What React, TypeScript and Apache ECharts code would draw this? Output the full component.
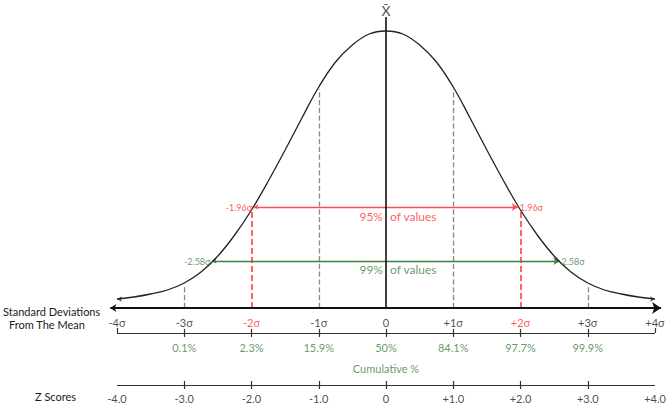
import React, { useEffect, useRef } from 'react';
import * as echarts from 'echarts';

// Bell curve (height above the main axis, px-like units)
const curveX = [-4, -3.75, -3.5, -3.25, -3, -2.75, -2.5, -2.25, -2, -1.75, -1.5, -1.25, -1, -0.75, -0.5, -0.25, 0, 0.25, 0.5, 0.75, 1, 1.25, 1.5, 1.75, 2, 2.25, 2.5, 2.75, 3, 3.25, 3.5, 3.75, 4];
const curveY = [9, 11, 14, 18, 25, 36, 52, 73, 98, 127, 158, 190, 221, 246, 263, 274, 277, 274, 263, 246, 221, 190, 158, 127, 98, 73, 52, 36, 25, 18, 14, 11, 9];

const sigmaTicks = [-4, -3, -2, -1, 0, 1, 2, 3, 4];
const sigmaLabels = ['-4σ', '-3σ', '-2σ', '-1σ', '0', '+1σ', '+2σ', '+3σ', '+4σ'];
const sigmaRed = [-2, 2];

const cumulativeTicks = [-3, -2, -1, 0, 1, 2, 3];
const cumulativeLabels = ['0.1%', '2.3%', '15.9%', '50%', '84.1%', '97.7%', '99.9%'];

const zTicks = [-4, -3, -2, -1, 0, 1, 2, 3, 4];
const zLabels = ['-4.0', '-3.0', '-2.0', '-1.0', '0', '+1.0', '+2.0', '+3.0', '+4.0'];

const grayGuideX = [-3, -1, 1, 3];
const grayGuideTop = [23, 219, 219, 23];
const redGuideX = [-2, 2];

const interval95 = [-1.96, 1.96];
const level95 = 101;
const interval99 = [-2.58, 2.58];
const level99 = 47;

const peakLineTop = 291;

const FONT = 'Lato, "Open Sans", sans-serif';
const DARK = '#1a1a1a';
const RED = '#ff3030';
const RED_LINE = '#ff5050';
const GREEN = '#3d7f3d';

// row positions (layout, in the same vertical units)
const ROW_MAIN = 0;
const ROW_SIGMA_LABEL = -14;
const ROW_CUM = -25;
const ROW_CUM_LABEL = -39;
const ROW_CUM_TITLE = -60;
const ROW_Z = -77;
const ROW_Z_LABEL = -90;

function textSeries(items: { x: number; y: number; text: string; color?: string; align?: string; size?: number }[], color: string, size: number) {
  return {
    type: 'scatter',
    symbolSize: 1,
    itemStyle: { color: 'rgba(0,0,0,0)' },
    silent: true,
    clip: false,
    z: 5,
    data: items.map((it) => ({
      value: [it.x, it.y],
      label: {
        show: true,
        position: 'inside',
        formatter: it.text,
        color: it.color || color,
        fontSize: it.size || size,
        fontFamily: FONT,
        align: it.align || 'center',
        verticalAlign: 'middle',
      },
    })),
  };
}

function segSeries(segs: number[][][], color: string, width: number, type: string = 'solid', symbol: any = 'none', symbolSize: any = 0) {
  return {
    type: 'lines',
    coordinateSystem: 'cartesian2d',
    silent: true,
    clip: false,
    symbol,
    symbolSize,
    lineStyle: { color, width, type, opacity: 1 },
    data: segs.map((s) => ({ coords: s })),
  };
}

export default function App() {
  const ref = useRef<HTMLDivElement>(null);
  useEffect(() => {
    if (!ref.current) return;
    const chart = echarts.init(ref.current, undefined, { renderer: 'svg' });
    const series: any[] = [];

    // main curve
    series.push({
      type: 'line',
      data: curveX.map((x, i) => [x, curveY[i]]),
      smooth: 0.4,
      symbol: 'none',
      lineStyle: { color: '#222', width: 1.3 },
      z: 4,
    });
    // curve end arrows
    series.push({
      type: 'scatter',
      symbol: 'arrow',
      symbolSize: [4, 5],
      itemStyle: { color: '#222' },
      silent: true,
      data: [
        { value: [curveX[0], curveY[0]], symbolRotate: 90 },
        { value: [curveX[curveX.length - 1], curveY[curveY.length - 1]], symbolRotate: -90 },
      ],
    });

    // guides
    series.push(segSeries(grayGuideX.map((x, i) => [[x, ROW_MAIN], [x, grayGuideTop[i]]]), '#888', 1.3, 'dashed'));
    series.push(segSeries(redGuideX.map((x) => [[x, ROW_MAIN], [x, level95 - 2]]), RED, 1.5, 'dashed'));

    // interval lines
    series.push(segSeries([[[interval95[0], level95], [interval95[1], level95]]], RED_LINE, 1.3, 'solid', ['arrow', 'arrow'], [4, 6]));
    series.push(segSeries([[[interval99[0], level99], [interval99[1], level99]]], GREEN, 1.3, 'solid', ['arrow', 'arrow'], [4, 6]));

    // center line
    series.push(segSeries([[[0, ROW_MAIN], [0, peakLineTop]]], '#111', 1.6));

    // main axis with arrows
    series.push(segSeries([[[-4.1, ROW_MAIN], [4.09, ROW_MAIN]]], '#111', 1.8, 'solid', ['arrow', 'arrow'], [6, 9]));

    // cumulative axis line and ticks
    series.push(segSeries([[[sigmaTicks[0], ROW_CUM], [sigmaTicks[sigmaTicks.length - 1], ROW_CUM]]], '#333', 1.2));
    series.push(segSeries(cumulativeTicks.map((x) => [[x, ROW_CUM - 4], [x, ROW_CUM + 4]]), '#333', 1.2));
    series.push(segSeries([[[sigmaTicks[0], ROW_CUM], [sigmaTicks[0], ROW_CUM + 5]], [[sigmaTicks[8], ROW_CUM], [sigmaTicks[8], ROW_CUM + 5]]], '#333', 1.2));

    // z axis line and ticks
    series.push(segSeries([[[zTicks[0], ROW_Z], [zTicks[zTicks.length - 1], ROW_Z]]], '#333', 1.2));
    series.push(segSeries(zTicks.slice(1, -1).map((x) => [[x, ROW_Z - 4], [x, ROW_Z + 4]]), '#333', 1.2));

    // texts
    series.push(textSeries(sigmaTicks.map((x, i) => ({ x, y: ROW_SIGMA_LABEL, text: sigmaLabels[i], color: sigmaRed.includes(x) ? RED : undefined })), DARK, 11));
    series.push(textSeries(cumulativeTicks.map((x, i) => ({ x, y: ROW_CUM_LABEL, text: cumulativeLabels[i] })), GREEN, 11));
    series.push(textSeries([{ x: 0, y: ROW_CUM_TITLE, text: 'Cumulative %' }], GREEN, 11));
    series.push(textSeries(zTicks.map((x, i) => ({ x, y: ROW_Z_LABEL, text: zLabels[i] })), DARK, 11));
    series.push(textSeries([
      { x: -0.045, y: level95 - 9, text: '95%', align: 'right' },
      { x: 0.06, y: level95 - 9, text: 'of values', align: 'left' },
      { x: interval95[0] - 0.03, y: level95, text: '-1.96σ', align: 'right', size: 9 },
      { x: interval95[1] + 0.03, y: level95, text: '1.96σ', align: 'left', size: 9 },
    ], RED, 12));
    series.push(textSeries([
      { x: -0.045, y: level99 - 8, text: '99%', align: 'right' },
      { x: 0.06, y: level99 - 8, text: 'of values', align: 'left' },
      { x: interval99[0] - 0.03, y: level99, text: '-2.58σ', align: 'right', size: 9 },
      { x: interval99[1] + 0.03, y: level99, text: '2.58σ', align: 'left', size: 9 },
    ], GREEN, 12));
    series.push(textSeries([{ x: 0, y: 298, text: 'X\u0304' }], DARK, 14));

    chart.setOption({
      animation: false,
      backgroundColor: '#ffffff',
      grid: { left: 103.55, right: 5.275, top: 8, bottom: 5 },
      xAxis: { type: 'value', min: -4.2, max: 4.1, show: false },
      yAxis: { type: 'value', min: -92, max: 300, show: false },
      graphic: [
        { type: 'text', left: 3, top: 306, style: { text: 'Standard Deviations', font: `11px ${FONT}`, fill: DARK } },
        { type: 'text', left: 9, top: 319, style: { text: 'From The Mean', font: `11px ${FONT}`, fill: DARK } },
        { type: 'text', left: 35, top: 391, style: { text: 'Z Scores', font: `11px ${FONT}`, fill: DARK } },
      ],
      series,
    });
    return () => chart.dispose();
  }, []);
  return <div ref={ref} style={{ position: 'absolute', left: 0, top: 0, width: 667, height: 405 }} />;
}
